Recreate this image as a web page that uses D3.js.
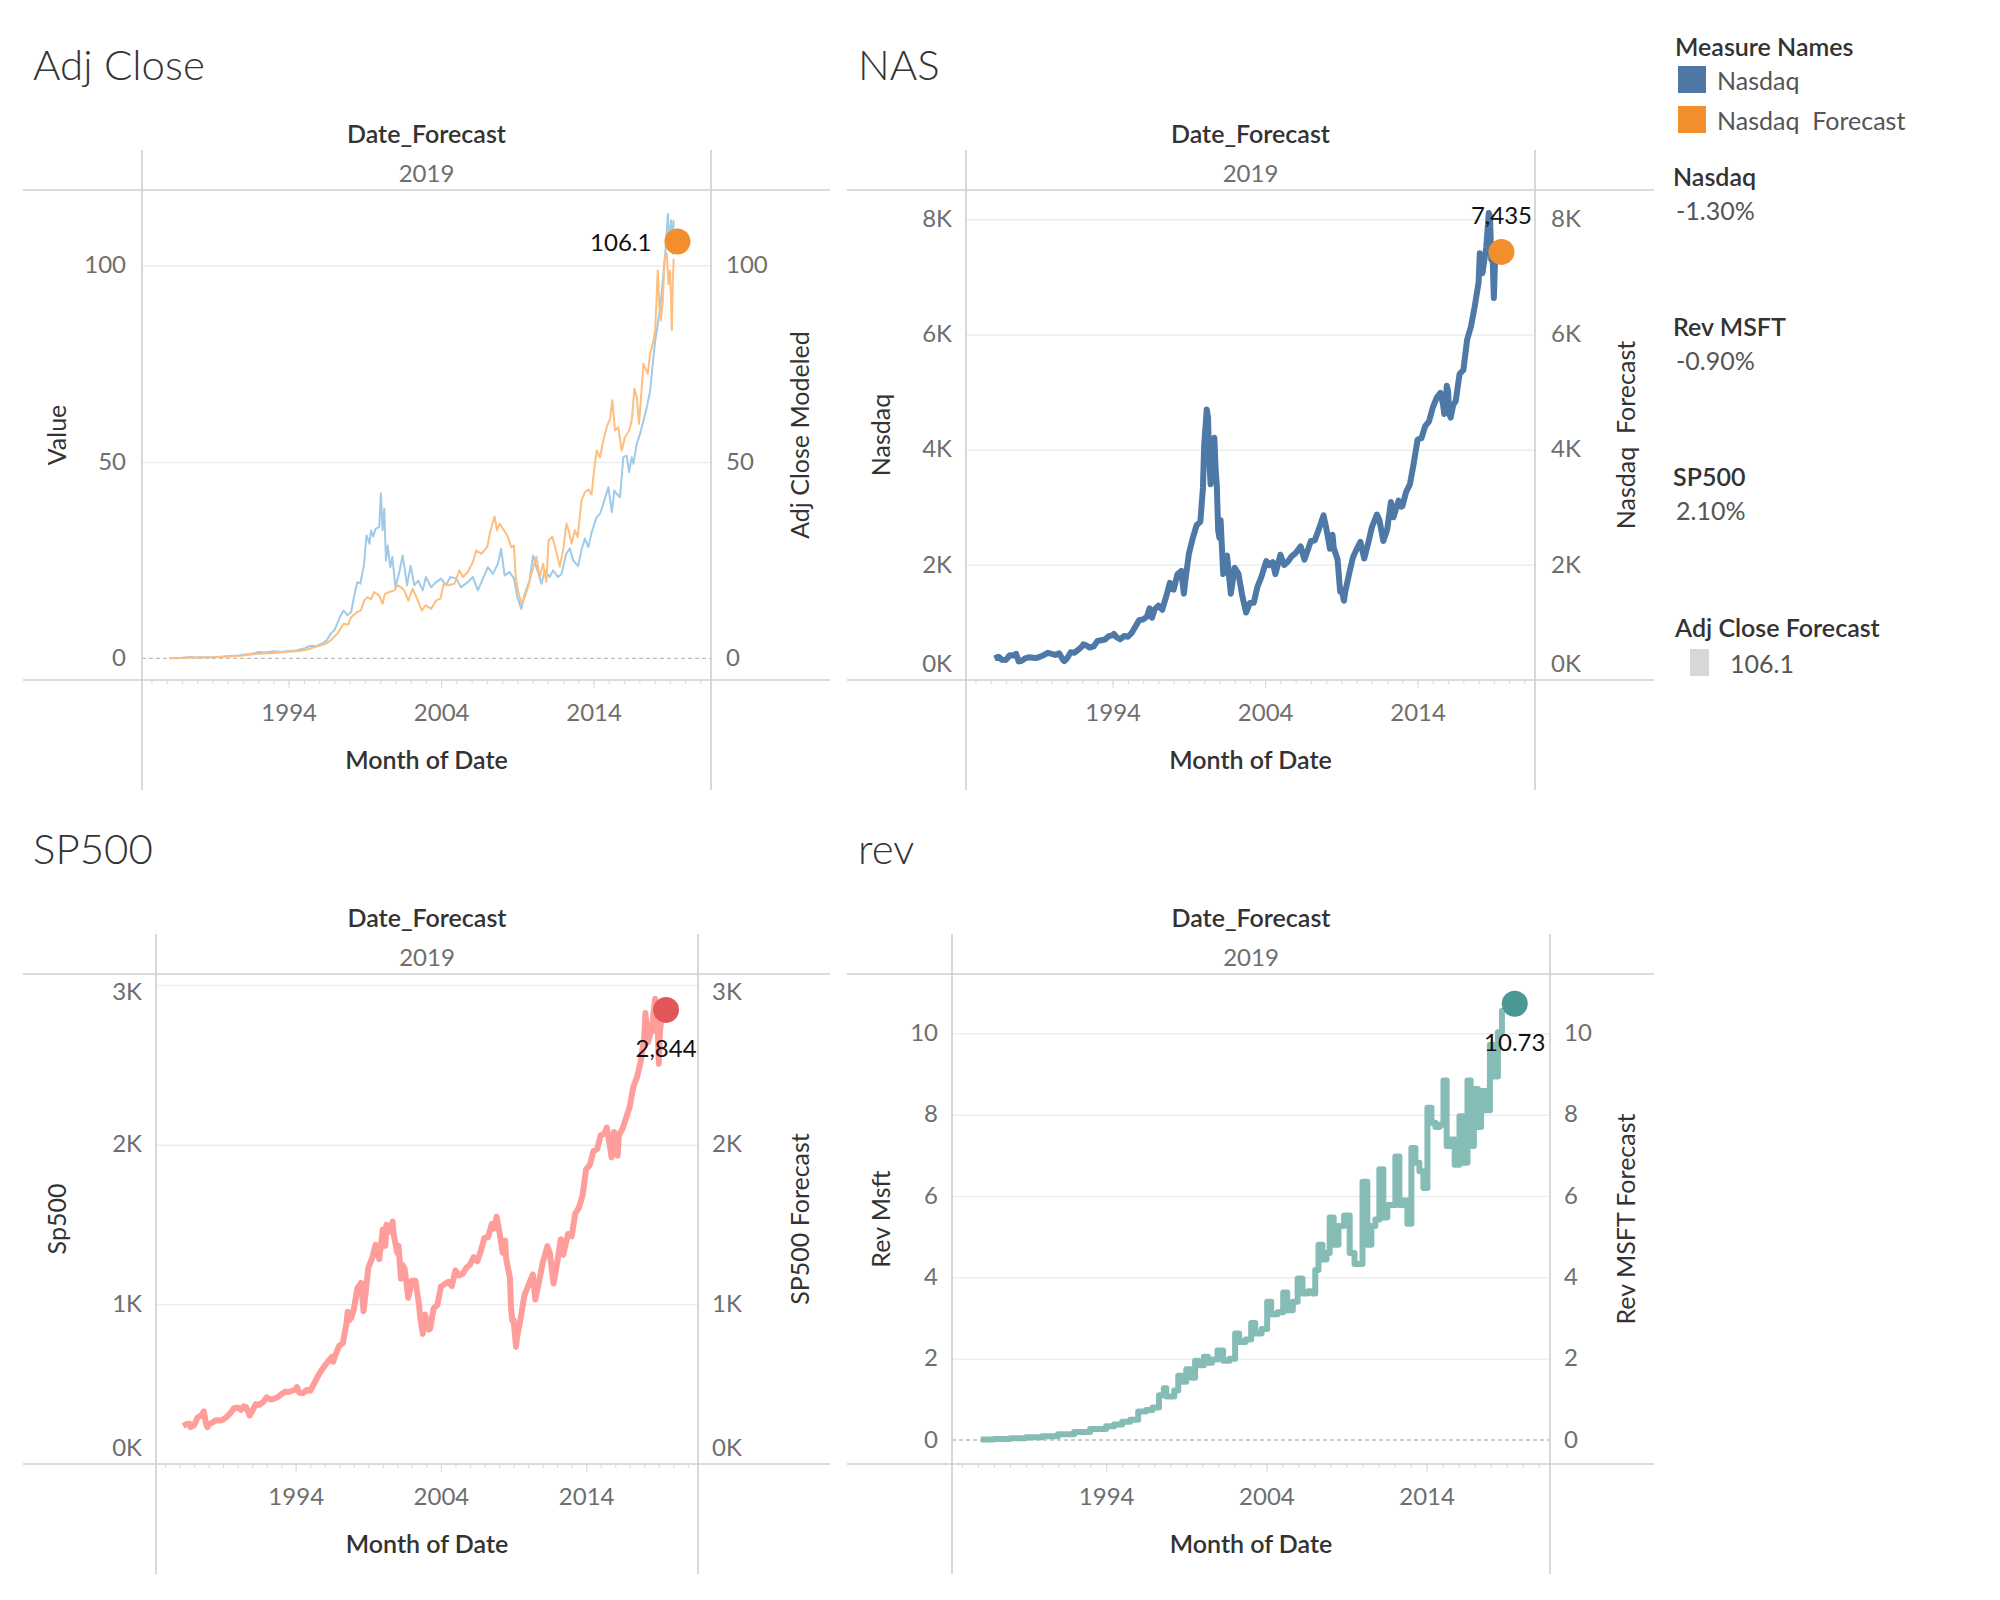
<!DOCTYPE html>
<html>
<head>
<meta charset="utf-8">
<script src="https://cdnjs.cloudflare.com/ajax/libs/d3/7.8.5/d3.min.js"></script>
<style>
  body { margin: 0; background: #fff; }
  svg text { font-family: Lato, "Open Sans", sans-serif; }
  .title { font-size: 42px; font-weight: 300; fill: #333; }
  .axis-title { font-size: 25px; font-weight: 600; fill: #333; }
  .side-title { font-size: 25px; font-weight: 400; fill: #333; white-space: pre; }
  .tick text { font-size: 24px; font-weight: 400; fill: #6e6e6e; }
  .header { font-size: 24px; fill: #6e6e6e; }
  .frame { stroke: #cfcfcf; stroke-width: 1.6; }
  .mark-label { font-size: 24px; fill: #111; }
  .legend-head { font-size: 25px; font-weight: 600; fill: #333; }
  .legend-text { font-size: 25px; fill: #555; white-space: pre; }
</style>
</head>
<body>
<div id="chart"></div>
<script>
const width = 2000;
const height = 1600;

// x axis: decimal years (Month of Date)
const yearDomain = [1984.38, 2021.7];
const yearLabels = [1994, 2004, 2014];
const yearMinor = d3.range(1985, 2022);

// ----- Adj Close (actual) -----
const adjClose = [
  [1986.17,0.06],[1986.5,0.09],[1987.0,0.15],[1987.4,0.28],[1987.7,0.36],[1987.85,0.25],[1988.3,0.3],[1988.8,0.28],
  [1989.3,0.35],[1989.8,0.5],[1990.3,0.7],[1990.7,0.68],[1991.0,0.9],[1991.5,1.1],[1992.0,1.6],[1992.5,1.5],
  [1993.0,1.8],[1993.5,1.6],[1994.0,1.9],[1994.5,2.0],[1995.0,2.5],[1995.4,3.2],[1995.8,3.1],[1996.2,3.8],
  [1996.5,4.6],[1996.76,6.3],[1997.0,7.2],[1997.2,9.0],[1997.4,10.8],[1997.6,12.2],[1997.85,11.0],[1998.1,11.8],
  [1998.3,16.0],[1998.5,19.4],[1998.7,19.0],[1998.95,24.1],[1999.1,31.3],[1999.3,29.2],[1999.4,32.6],[1999.55,31.0],
  [1999.7,33.0],[1999.94,33.4],[2000.05,42.0],[2000.16,32.6],[2000.27,38.1],[2000.38,24.9],[2000.5,28.7],[2000.66,23.2],
  [2000.8,25.8],[2001.0,18.1],[2001.26,22.0],[2001.47,26.2],[2001.63,22.4],[2001.76,18.6],[2002.0,23.6],[2002.24,18.6],
  [2002.5,19.8],[2002.79,17.3],[2003.0,20.7],[2003.34,18.1],[2003.67,19.4],[2004.0,20.3],[2004.33,18.6],[2004.6,20.7],
  [2005.0,20.3],[2005.3,18.1],[2005.75,19.4],[2006.08,20.7],[2006.41,17.3],[2006.74,20.3],[2007.07,23.2],[2007.4,21.5],
  [2007.72,24.1],[2007.94,27.9],[2008.16,21.1],[2008.49,22.0],[2008.78,20.3],[2009.0,15.6],[2009.26,12.6],[2009.48,16.4],
  [2009.8,19.8],[2010.03,26.2],[2010.25,23.2],[2010.58,19.0],[2010.8,22.4],[2011.12,20.7],[2011.34,22.4],[2011.67,20.7],
  [2011.9,21.5],[2012.2,26.6],[2012.44,28.0],[2012.66,24.9],[2012.99,23.5],[2013.2,27.5],[2013.43,30.5],[2013.65,28.3],
  [2013.87,32.0],[2014.2,36.0],[2014.42,36.8],[2014.64,39.4],[2014.97,43.6],[2015.2,37.2],[2015.36,42.7],[2015.51,41.9],
  [2015.73,41.0],[2015.95,51.2],[2016.17,51.6],[2016.33,47.4],[2016.5,51.2],[2016.61,49.5],[2016.83,54.6],[2017.05,57.2],
  [2017.27,60.5],[2017.49,63.9],[2017.71,68.2],[2017.86,74.1],[2018.04,80.9],[2018.15,83.5],[2018.37,89.4],[2018.52,95.3],
  [2018.7,103.0],[2018.87,113.1],[2018.98,105.5],[2019.09,111.5],[2019.18,103.0],[2019.25,111.5]
];

// ----- Adj Close Modeled -----
const adjModeled = [
  [1986.17,0.05],[1987.0,0.12],[1987.6,0.25],[1988.0,0.22],[1989.0,0.3],[1990.0,0.5],[1991.0,0.75],[1992.0,1.2],
  [1993.0,1.4],[1994.0,1.7],[1994.7,1.9],[1995.2,2.2],[1995.7,2.9],[1996.2,3.4],[1996.5,3.9],[1996.76,4.6],
  [1997.2,6.3],[1997.6,8.8],[1997.9,8.6],[1998.1,10.5],[1998.5,11.8],[1998.75,12.3],[1998.95,14.7],[1999.17,15.6],
  [1999.4,15.0],[1999.6,16.9],[1999.94,16.0],[2000.16,13.9],[2000.31,16.4],[2000.6,16.9],[2000.93,17.3],[2001.15,18.6],
  [2001.37,18.1],[2001.58,17.3],[2001.85,14.7],[2002.13,17.7],[2002.42,15.2],[2002.73,12.2],[2003.0,13.5],[2003.34,12.6],
  [2003.67,14.7],[2003.95,15.2],[2004.17,19.0],[2004.44,18.6],[2004.87,19.0],[2005.2,22.4],[2005.42,20.7],[2005.75,22.0],
  [2006.08,24.5],[2006.3,27.5],[2006.63,26.6],[2007.02,28.3],[2007.24,32.6],[2007.5,36.1],[2007.66,32.6],[2007.83,34.3],
  [2008.12,32.6],[2008.38,30.9],[2008.6,28.3],[2008.78,28.7],[2008.89,20.7],[2009.04,17.3],[2009.26,13.9],[2009.48,15.6],
  [2009.7,18.1],[2009.92,21.5],[2010.25,25.9],[2010.47,20.7],[2010.69,24.1],[2010.9,19.5],[2011.05,30.0],[2011.28,31.0],
  [2011.5,28.0],[2011.78,23.4],[2012.0,27.5],[2012.22,34.3],[2012.37,32.6],[2012.55,29.2],[2012.77,32.6],[2012.95,30.9],
  [2013.21,40.2],[2013.43,42.3],[2013.65,43.0],[2013.87,41.7],[2013.98,46.1],[2014.2,52.9],[2014.42,51.2],[2014.64,55.5],
  [2014.86,58.9],[2015.08,61.0],[2015.23,65.7],[2015.4,58.0],[2015.62,58.9],[2015.84,52.9],[2016.06,56.3],[2016.33,58.0],
  [2016.5,60.5],[2016.68,68.6],[2016.83,66.5],[2016.98,59.7],[2017.16,69.0],[2017.27,75.0],[2017.55,72.4],[2017.71,77.5],
  [2017.88,80.1],[2018.04,83.5],[2018.21,98.7],[2018.3,90.2],[2018.41,86.0],[2018.54,91.1],[2018.65,101.3],[2018.8,103.0],
  [2018.91,95.3],[2019.02,98.7],[2019.13,83.5],[2019.2,96.2],[2019.25,101.7]
];

// ----- Nasdaq -----
const nasdaq = [
  [1986.25,375],[1986.5,405],[1986.75,350],[1987.0,349],[1987.25,430],[1987.5,424],[1987.67,455],[1987.83,323],
  [1988.0,330],[1988.25,374],[1988.5,394],[1988.75,387],[1989.0,381],[1989.25,406],[1989.5,435],[1989.75,472],
  [1990.0,454],[1990.25,435],[1990.5,462],[1990.75,345],[1990.83,329],[1991.0,373],[1991.25,482],[1991.5,475],
  [1991.75,527],[1992.0,586],[1992.08,620],[1992.25,603],[1992.5,563],[1992.75,583],[1993.0,677],[1993.25,690],
  [1993.5,704],[1993.75,763],[1994.0,777],[1994.08,800],[1994.25,743],[1994.5,706],[1994.75,764],[1995.0,752],
  [1995.25,817],[1995.5,933],[1995.75,1044],[1996.0,1052],[1996.25,1101],[1996.42,1243],[1996.58,1081],[1996.75,1226],
  [1997.0,1291],[1997.25,1221],[1997.5,1442],[1997.75,1686],[1997.83,1594],[1998.0,1570],[1998.25,1835],[1998.5,1895],
  [1998.67,1499],[1998.75,1694],[1999.0,2193],[1999.25,2461],[1999.5,2686],[1999.75,2746],[1999.92,3336],[2000.0,4069],
  [2000.17,4697],[2000.25,4573],[2000.33,3861],[2000.42,3401],[2000.5,3966],[2000.67,4206],[2000.75,3673],[2000.83,3370],
  [2000.92,2598],[2001.0,2470],[2001.08,2773],[2001.25,1840],[2001.33,2116],[2001.5,2160],[2001.75,1499],[2002.0,1950],
  [2002.25,1845],[2002.5,1463],[2002.75,1172],[2003.0,1336],[2003.25,1341],[2003.5,1623],[2003.75,1787],[2004.0,2003],
  [2004.08,2066],[2004.25,1994],[2004.5,2048],[2004.67,1838],[2005.0,2175],[2005.25,1999],[2005.5,2057],[2005.75,2152],
  [2006.0,2205],[2006.33,2322],[2006.58,2091],[2007.0,2415],[2007.25,2422],[2007.5,2603],[2007.83,2859],[2008.0,2652],
  [2008.25,2279],[2008.42,2522],[2008.5,2293],[2008.75,2092],[2008.92,1536],[2009.0,1577],[2009.17,1377],[2009.25,1528],
  [2009.5,1835],[2009.75,2122],[2010.0,2269],[2010.25,2398],[2010.5,2109],[2010.75,2368],[2011.0,2653],[2011.33,2873],
  [2011.5,2773],[2011.75,2415],[2012.0,2605],[2012.25,3091],[2012.42,2827],[2012.75,3116],[2012.92,3010],[2013.0,3020],
  [2013.25,3268],[2013.5,3403],[2013.75,3771],[2014.0,4177],[2014.25,4199],[2014.5,4408],[2014.75,4493],[2015.0,4736],
  [2015.25,4901],[2015.5,4987],[2015.67,4777],[2015.75,4620],[2015.92,5109],[2016.0,5007],[2016.08,4614],[2016.17,4558],
  [2016.33,4775],[2016.5,4843],[2016.75,5312],[2017.0,5383],[2017.25,5912],[2017.5,6140],[2017.75,6496],[2018.0,6903],
  [2018.08,7411],[2018.25,7063],[2018.5,7510],[2018.67,8110],[2018.75,8046],[2018.83,7306],[2018.92,7331],[2019.0,6635],
  [2019.08,7282],[2019.17,7450]
];

// ----- SP500 -----
const sp500 = [
  [1986.25,238],[1986.5,251],[1986.67,253],[1986.75,231],[1987.0,242],[1987.25,292],[1987.5,304],[1987.67,330],
  [1987.83,252],[1987.92,230],[1988.0,247],[1988.25,259],[1988.5,274],[1988.75,272],[1989.0,278],[1989.25,295],
  [1989.5,318],[1989.75,349],[1990.0,353],[1990.25,339],[1990.42,361],[1990.58,356],[1990.83,304],[1991.0,330],
  [1991.25,375],[1991.5,371],[1991.75,388],[1992.0,417],[1992.25,404],[1992.5,408],[1992.75,418],[1993.0,436],
  [1993.25,452],[1993.5,451],[1993.75,459],[1994.0,466],[1994.08,482],[1994.25,446],[1994.5,444],[1994.75,463],
  [1995.0,459],[1995.25,501],[1995.5,545],[1995.75,584],[1996.0,616],[1996.25,645],[1996.5,671],[1996.58,640],
  [1996.75,687],[1997.0,741],[1997.25,757],[1997.5,885],[1997.58,954],[1997.67,899],[1997.75,947],[1997.83,915],
  [1998.0,970],[1998.25,1102],[1998.5,1134],[1998.67,957],[1998.75,1017],[1999.0,1229],[1999.25,1286],[1999.5,1373],
  [1999.75,1283],[2000.0,1469],[2000.17,1366],[2000.25,1499],[2000.5,1455],[2000.67,1518],[2000.75,1437],[2001.0,1320],
  [2001.08,1366],[2001.25,1160],[2001.33,1249],[2001.5,1224],[2001.75,1041],[2002.0,1148],[2002.25,1147],[2002.5,990],
  [2002.58,912],[2002.75,815],[2002.92,936],[2003.0,880],[2003.17,841],[2003.25,848],[2003.5,975],[2003.75,996],
  [2004.0,1112],[2004.25,1126],[2004.5,1141],[2004.75,1115],[2005.0,1212],[2005.25,1181],[2005.5,1191],[2005.75,1229],
  [2006.0,1248],[2006.25,1295],[2006.5,1270],[2006.75,1336],[2007.0,1418],[2007.25,1421],[2007.5,1503],[2007.67,1474],
  [2007.83,1549],[2008.0,1468],[2008.25,1323],[2008.42,1400],[2008.5,1280],[2008.75,1166],[2008.83,969],[2008.92,896],
  [2009.0,903],[2009.17,735],[2009.25,798],[2009.5,919],[2009.75,1057],[2010.0,1115],[2010.33,1187],[2010.5,1031],
  [2010.75,1141],[2011.0,1258],[2011.33,1364],[2011.5,1321],[2011.75,1131],[2012.0,1258],[2012.25,1408],[2012.42,1310],
  [2012.75,1441],[2013.0,1426],[2013.25,1569],[2013.5,1606],[2013.75,1682],[2014.0,1848],[2014.25,1872],[2014.5,1960],
  [2014.75,1972],[2015.0,2059],[2015.25,2068],[2015.42,2107],[2015.67,1972],[2015.75,1920],[2015.92,2080],[2016.0,2044],
  [2016.08,1940],[2016.17,1932],[2016.25,2060],[2016.5,2099],[2016.75,2168],[2017.0,2239],[2017.25,2363],[2017.5,2423],
  [2017.75,2519],[2018.0,2674],[2018.08,2824],[2018.25,2641],[2018.5,2718],[2018.75,2914],[2018.83,2712],[2018.92,2760],
  [2019.0,2507],[2019.08,2704],[2019.17,2784],[2019.25,2834]
];

// ----- Rev MSFT (quarterly steps) -----
const revMsft = [
  [1986.17,0.015],[1987.0,0.025],[1988.0,0.045],[1989.0,0.065],[1990.0,0.09],[1991.0,0.14],[1992.0,0.2],[1993.0,0.27],
  [1994.0,0.34],[1994.5,0.38],[1995.0,0.45],[1995.5,0.5],[1996.0,0.7],[1996.5,0.74],[1996.9,0.8],[1997.3,1.1],
  [1997.6,1.27],[1997.75,1.07],[1998.25,1.22],[1998.5,1.58],[1998.75,1.43],[1999.0,1.74],[1999.35,1.53],[1999.55,1.95],
  [1999.75,1.84],[2000.1,2.05],[2000.35,1.9],[2000.6,1.98],[2000.95,2.2],[2001.3,1.95],[2001.7,2.0],[2002.05,2.62],
  [2002.3,2.41],[2002.7,2.47],[2003.05,2.88],[2003.3,2.62],[2003.7,2.73],[2004.05,3.4],[2004.3,3.09],[2004.7,3.14],
  [2005.05,3.63],[2005.3,3.19],[2005.65,3.4],[2005.95,3.97],[2006.25,3.6],[2006.6,3.66],[2006.9,3.6],[2007.05,4.18],
  [2007.25,4.8],[2007.5,4.44],[2007.75,4.6],[2007.95,5.47],[2008.2,4.8],[2008.5,5.26],[2008.85,5.52],[2009.2,4.6],
  [2009.5,4.33],[2010.0,6.35],[2010.3,4.8],[2010.55,5.26],[2010.8,5.42],[2011.05,6.66],[2011.3,5.47],[2011.55,5.78],
  [2012.05,6.97],[2012.3,5.78],[2012.55,5.89],[2012.8,5.32],[2013.05,7.18],[2013.3,6.82],[2013.55,6.61],[2013.8,6.2],
  [2014.05,8.17],[2014.3,7.8],[2014.55,7.7],[2014.8,7.75],[2015.05,8.84],[2015.25,7.23],[2015.5,7.39],[2015.75,6.77],
  [2016.05,7.96],[2016.3,6.82],[2016.55,8.84],[2016.75,7.23],[2016.95,8.63],[2017.2,7.7],[2017.4,8.58],[2017.7,8.11],
  [2017.95,9.72],[2018.2,8.94],[2018.45,10.03],[2018.7,10.55],[2018.78,10.55]
];

// forecast points
const forecastDate = 2019.5;
const forecastValues = { adj: 106.1, nasdaq: 7435, sp500: 2844, rev: 10.73 };

// legend / summary text
const measureNames = ["Nasdaq", "Nasdaq  Forecast"];
const measureColors = ["#4e79a7", "#f28e2b"];
const summaryNames = ["Nasdaq", "Rev MSFT", "SP500"];
const summaryValues = ["-1.30%", "-0.90%", "2.10%"];

const svg = d3.select("#chart")
  .append("svg")
  .attr("width", width)
  .attr("height", height);

const kFmt = d => (d / 1000) + "K";

const panels = [
  { title: "Adj Close", titleX: 33, row: 0, left: 142, right: 711, frameL: 23, frameR: 830,
    yDomain: [-5.5, 119.2], yTicks: [0, 50, 100], fmt: d3.format("d"), zero: true,
    leftLabelX: 126, rightLabelX: 726, leftTitle: "Value", leftTitleX: 56,
    rightTitle: "Adj Close Modeled", rightTitleX: 799,
    series: [{ data: adjClose, color: "#a0cbe8", w: 2 }, { data: adjModeled, color: "#ffbe7d", w: 2 }],
    dot: { v: forecastValues.adj, color: "#f28e2b", label: "106.1", pos: "left" } },
  { title: "NAS", titleX: 858, row: 0, left: 966, right: 1535, frameL: 847, frameR: 1654,
    yDomain: [0, 8510], yTicks: [0, 2000, 4000, 6000, 8000], fmt: kFmt, zero: false,
    leftLabelX: 952, rightLabelX: 1551, leftTitle: "Nasdaq", leftTitleX: 880,
    rightTitle: "Nasdaq  Forecast", rightTitleX: 1625,
    series: [{ data: nasdaq, color: "#4e79a7", w: 6 }],
    dot: { v: forecastValues.nasdaq, color: "#f28e2b", label: "7,435", pos: "above" } },
  { title: "SP500", titleX: 33, row: 784, left: 156, right: 698, frameL: 23, frameR: 830,
    yDomain: [0, 3069], yTicks: [0, 1000, 2000, 3000], fmt: kFmt, zero: false,
    leftLabelX: 142, rightLabelX: 712, leftTitle: "Sp500", leftTitleX: 56,
    rightTitle: "SP500 Forecast", rightTitleX: 799,
    series: [{ data: sp500, color: "#ff9d9a", w: 6 }],
    dot: { v: forecastValues.sp500, color: "#e15759", label: "2,844", pos: "below" } },
  { title: "rev", titleX: 858, row: 784, left: 952, right: 1550, frameL: 847, frameR: 1654,
    yDomain: [-0.59, 11.46], yTicks: [0, 2, 4, 6, 8, 10], fmt: d3.format("d"), zero: true,
    leftLabelX: 938, rightLabelX: 1564, leftTitle: "Rev Msft", leftTitleX: 880,
    rightTitle: "Rev MSFT Forecast", rightTitleX: 1625,
    series: [{ data: revMsft, color: "#86bcb6", w: 6, step: true }],
    dot: { v: forecastValues.rev, color: "#499894", label: "10.73", pos: "below" } }
];

function drawPanel(p) {
  const top = 190 + p.row;
  const bottom = 680 + p.row;
  const mid = (top + bottom) / 2;

  const x = d3.scaleLinear().domain(yearDomain).range([p.left, p.right]);
  const y = d3.scaleLinear().domain(p.yDomain).range([bottom, top]);

  const g = svg.append("g");

  // sheet title + column header
  g.append("text").attr("class", "title").attr("x", p.titleX).attr("y", 80 + p.row).text(p.title);
  g.append("text").attr("class", "axis-title")
    .attr("x", (p.left + p.right) / 2).attr("y", 133 + p.row)
    .attr("text-anchor", "middle").attr("dominant-baseline", "central")
    .text("Date_Forecast");
  g.append("text").attr("class", "header")
    .attr("x", (p.left + p.right) / 2).attr("y", 172 + p.row)
    .attr("text-anchor", "middle").attr("dominant-baseline", "central")
    .text("2019");

  // gridlines
  const grid = g.append("g")
    .attr("transform", `translate(${p.left},0)`)
    .call(d3.axisLeft(y).tickValues(p.yTicks.filter(v => v !== 0)).tickSize(-(p.right - p.left)).tickFormat(""));
  grid.select(".domain").remove();
  grid.selectAll("line").attr("stroke", "#ededed").attr("stroke-width", 1.5);

  if (p.zero) {
    g.append("line")
      .attr("x1", p.left).attr("x2", p.right)
      .attr("y1", y(0)).attr("y2", y(0))
      .attr("stroke", "#bdbdbd").attr("stroke-width", 1.3)
      .attr("stroke-dasharray", "4,3");
  }

  // frame lines
  [top, bottom].forEach(yy => {
    g.append("line").attr("class", "frame")
      .attr("x1", p.frameL).attr("x2", p.frameR).attr("y1", yy).attr("y2", yy);
  });
  [p.left, p.right].forEach(xx => {
    g.append("line").attr("class", "frame")
      .attr("x1", xx).attr("x2", xx).attr("y1", 150 + p.row).attr("y2", 790 + p.row);
  });

  // y tick labels (kept inside the pane like Tableau does)
  const clampY = v => Math.max(top + 18, Math.min(bottom - 16, y(v)));
  const yl = g.append("g")
    .attr("transform", `translate(${p.leftLabelX},0)`)
    .call(d3.axisLeft(y).tickValues(p.yTicks).tickSize(0).tickPadding(0).tickFormat(p.fmt));
  const yr = g.append("g")
    .attr("transform", `translate(${p.rightLabelX},0)`)
    .call(d3.axisRight(y).tickValues(p.yTicks).tickSize(0).tickPadding(0).tickFormat(p.fmt));
  [yl, yr].forEach(a => {
    a.select(".domain").remove();
    a.selectAll(".tick").attr("transform", d => `translate(0,${clampY(d)})`);
  });

  // x axis: yearly minor ticks + labelled decades
  const xm = g.append("g")
    .attr("transform", `translate(0,${bottom})`)
    .call(d3.axisBottom(x).tickValues(yearMinor).tickSize(4).tickFormat(""));
  xm.select(".domain").remove();
  xm.selectAll("line").attr("stroke", "#dddddd").attr("stroke-width", 1.2);

  const xa = g.append("g")
    .attr("transform", `translate(0,${bottom})`)
    .call(d3.axisBottom(x).tickValues(yearLabels).tickSize(8).tickPadding(16).tickFormat(d3.format("d")));
  xa.select(".domain").remove();
  xa.selectAll("line").attr("stroke", "#dddddd").attr("stroke-width", 1.2);

  g.append("text").attr("class", "axis-title")
    .attr("x", (p.left + p.right) / 2).attr("y", 759 + p.row)
    .attr("text-anchor", "middle").attr("dominant-baseline", "central")
    .text("Month of Date");

  // side titles
  g.append("text").attr("class", "side-title")
    .attr("transform", `translate(${p.leftTitleX},${mid}) rotate(-90)`)
    .attr("text-anchor", "middle").attr("dominant-baseline", "central")
    .text(p.leftTitle);
  g.append("text").attr("class", "side-title")
    .attr("transform", `translate(${p.rightTitleX},${mid}) rotate(-90)`)
    .attr("text-anchor", "middle").attr("dominant-baseline", "central")
    .text(p.rightTitle);

  // lines
  p.series.forEach(s => {
    const line = d3.line()
      .x(d => x(d[0]))
      .y(d => y(d[1]))
      .curve(s.step ? d3.curveStepAfter : d3.curveLinear);
    g.append("path")
      .datum(s.data)
      .attr("fill", "none")
      .attr("stroke", s.color)
      .attr("stroke-width", s.w)
      .attr("stroke-linejoin", "round")
      .attr("d", line);
  });

  // forecast dot + label
  const cx = x(forecastDate);
  const cy = y(p.dot.v);
  g.append("circle").attr("cx", cx).attr("cy", cy).attr("r", 13).attr("fill", p.dot.color);

  const lab = g.append("text").attr("class", "mark-label").attr("dominant-baseline", "central").text(p.dot.label);
  if (p.dot.pos === "left") {
    lab.attr("x", cx - 26).attr("y", cy).attr("text-anchor", "end");
  } else if (p.dot.pos === "above") {
    lab.attr("x", cx).attr("y", cy - 37).attr("text-anchor", "middle");
  } else {
    lab.attr("x", cx).attr("y", cy + 38).attr("text-anchor", "middle");
  }
}

panels.forEach(drawPanel);

// ----- Legend -----
const lg = svg.append("g");
lg.append("text").attr("class", "legend-head")
  .attr("x", 1675).attr("y", 46).attr("dominant-baseline", "central")
  .text("Measure Names");

measureNames.forEach((name, i) => {
  lg.append("rect")
    .attr("x", 1678).attr("y", 66 + i * 40)
    .attr("width", 28).attr("height", 27)
    .attr("fill", measureColors[i]);
  lg.append("text").attr("class", "legend-text")
    .attr("x", 1717).attr("y", 80 + i * 40).attr("dominant-baseline", "central")
    .text(name);
});

summaryNames.forEach((name, i) => {
  const yy = 176 + i * 150;
  lg.append("text").attr("class", "legend-head")
    .attr("x", 1673).attr("y", yy).attr("dominant-baseline", "central")
    .text(name);
  lg.append("text").attr("class", "legend-text")
    .attr("x", 1676).attr("y", yy + 34).attr("dominant-baseline", "central")
    .text(summaryValues[i]);
});

lg.append("text").attr("class", "legend-head")
  .attr("x", 1675).attr("y", 627).attr("dominant-baseline", "central")
  .text("Adj Close Forecast");
lg.append("rect")
  .attr("x", 1690).attr("y", 649)
  .attr("width", 19).attr("height", 27)
  .attr("fill", "#d7d7d7");
lg.append("text").attr("class", "legend-text")
  .attr("x", 1730).attr("y", 663).attr("dominant-baseline", "central")
  .text(d3.format(".1f")(forecastValues.adj));
</script>
</body>
</html>
